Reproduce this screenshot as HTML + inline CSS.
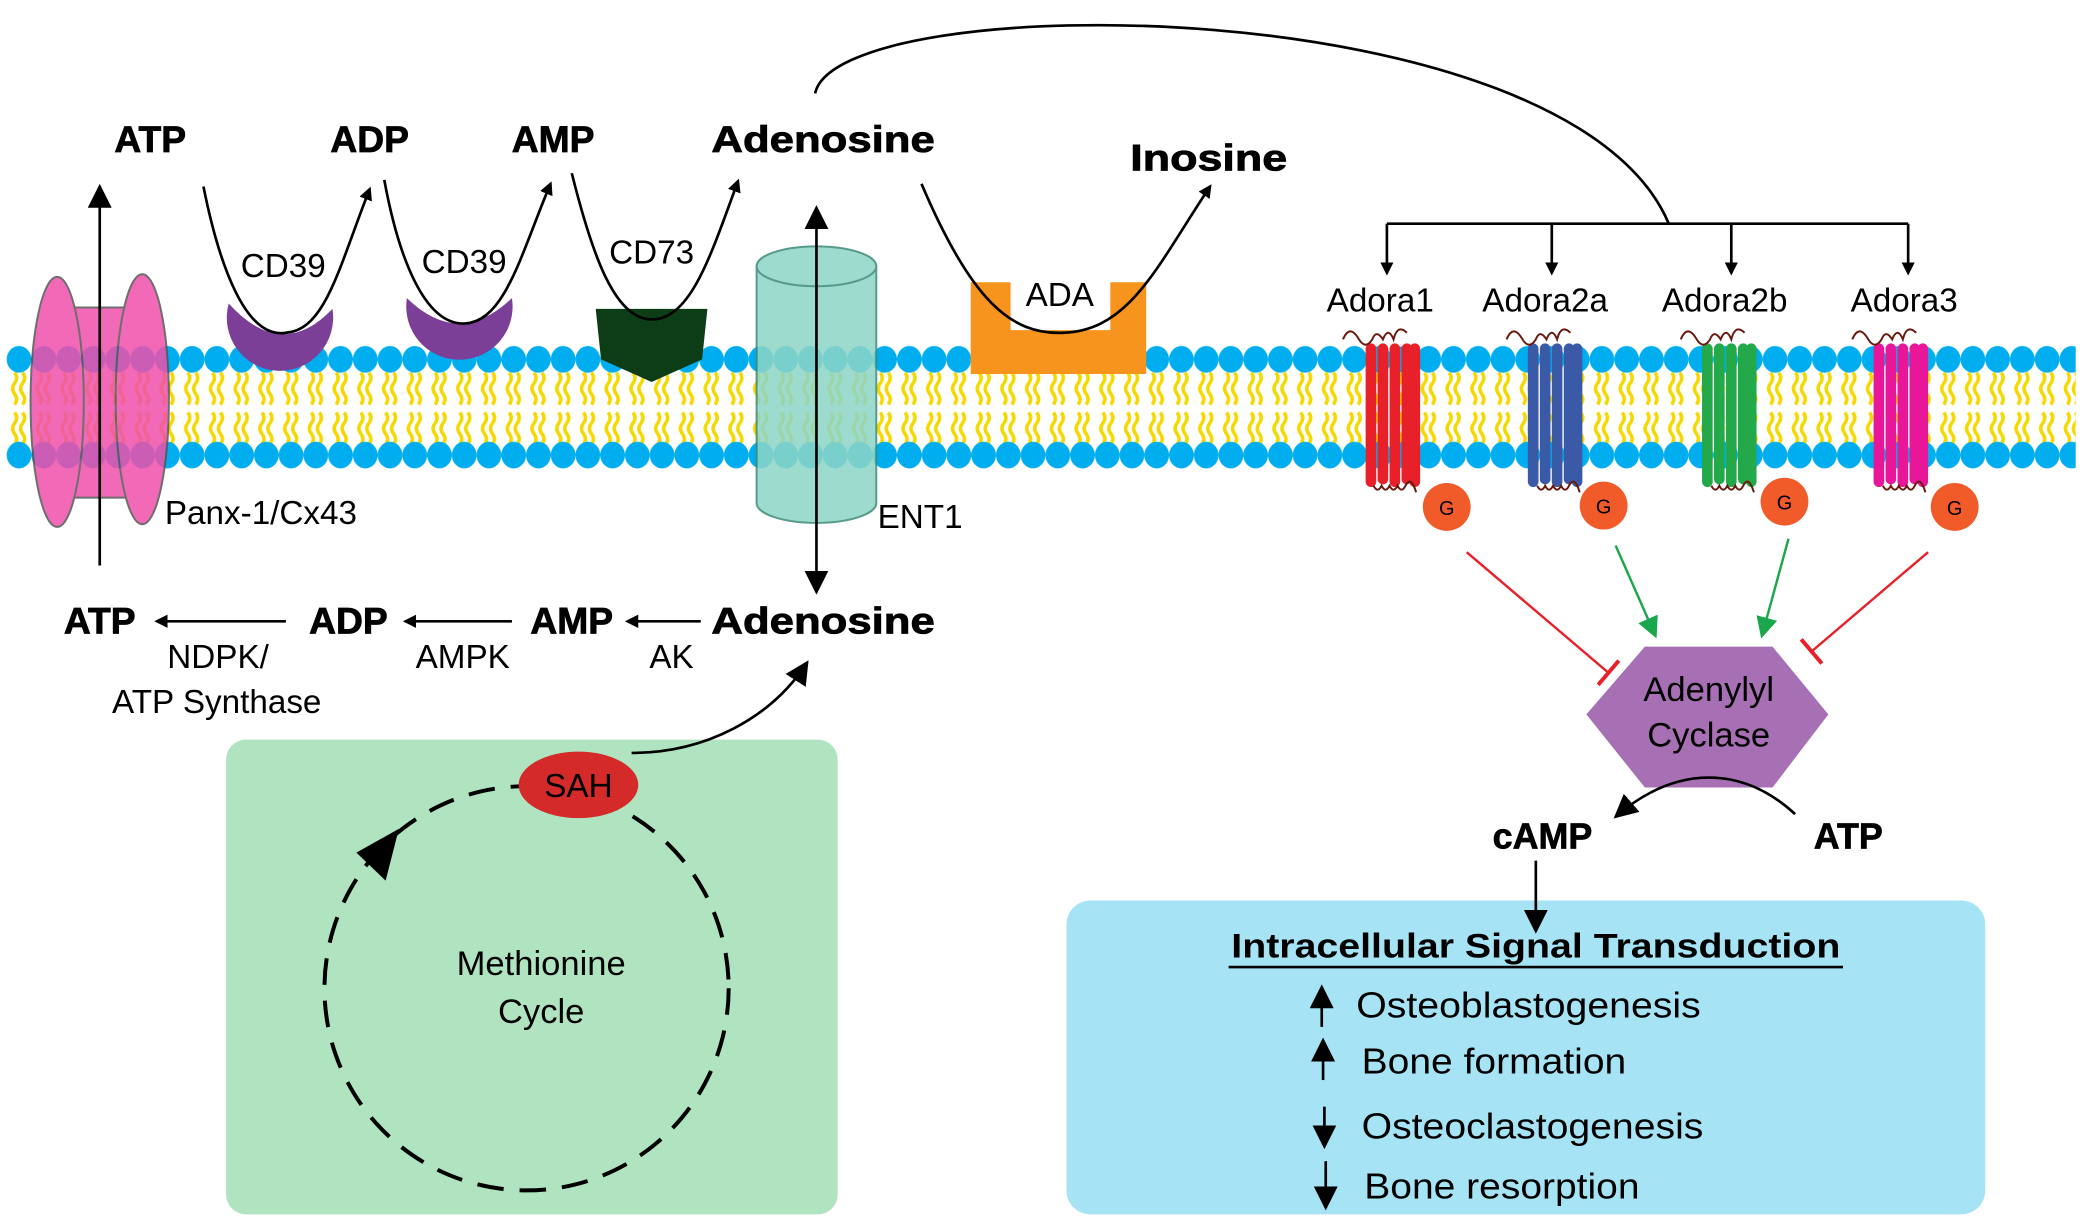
<!DOCTYPE html>
<html><head><meta charset="utf-8"><style>html,body{margin:0;padding:0;background:#fff}svg{display:block}text{font-family:"Liberation Sans",sans-serif}</style></head><body>
<svg width="2085" height="1220" viewBox="0 0 1568 917" xmlns="http://www.w3.org/2000/svg">
<defs>
<pattern id="mem" x="5" y="258" width="18.6" height="96" patternUnits="userSpaceOnUse">
<path d="M6,22 q3,4 0,8 q-3,4 0,8 q3,4 0,8 M12,22 q3,4 0,8 q-3,4 0,8 q3,4 0,8 M6,52 q3,4 0,8 q-3,4 0,8 q3,4 0,8 M12,52 q3,4 0,8 q-3,4 0,8 q3,4 0,8" stroke="#f5d800" stroke-width="2.6" fill="none"/>
<ellipse cx="9.3" cy="12" rx="9.3" ry="10" fill="#00aeef"/>
<ellipse cx="9.3" cy="84" rx="9.3" ry="10" fill="#00aeef"/>
</pattern>
<marker id="a" markerWidth="10" markerHeight="10" refX="8" refY="5" orient="auto" markerUnits="userSpaceOnUse"><path d="M0,0 L10,5 L0,10 Z" fill="#000"/></marker>
<marker id="ag" markerWidth="16" markerHeight="16" refX="14" refY="8" orient="auto" markerUnits="userSpaceOnUse"><path d="M0,0 L16,8 L0,16 Z" fill="#1aa64a"/></marker>
<marker id="tr" markerWidth="4" markerHeight="24" refX="2" refY="12" orient="auto" markerUnits="userSpaceOnUse"><rect x="0" y="0" width="3" height="24" fill="#e8202a"/></marker>
<marker id="ab" markerWidth="18" markerHeight="18" refX="16" refY="9" orient="auto" markerUnits="userSpaceOnUse"><path d="M0,0 L18,9 L0,18 Z" fill="#000"/></marker>
</defs>
<rect x="5" y="258" width="1556" height="96" fill="url(#mem)"/>

<!-- Panx -->
<g fill="#f04fac" stroke="#555" stroke-width="1.5" opacity="0.85">
<rect x="55" y="231" width="40" height="143"/>
<ellipse cx="43" cy="302" rx="20" ry="94"/>
<ellipse cx="107" cy="300" rx="20" ry="94"/>
</g>
<line x1="75" y1="425" x2="75" y2="140" stroke="#000" stroke-width="2" marker-end="url(#ab)"/>
<text x="124" y="394" font-size="25">Panx-1/Cx43</text>

<!-- top labels -->
<g font-weight="bold" font-size="28" text-anchor="middle" stroke="#000" stroke-width="0.6">
<text x="113" y="114">ATP</text><text x="278" y="114">ADP</text><text x="416" y="114">AMP</text><text x="619" y="114" textLength="168" lengthAdjust="spacingAndGlyphs">Adenosine</text><text x="909" y="128" textLength="118" lengthAdjust="spacingAndGlyphs">Inosine</text>
</g>

<!-- CD39 -->
<path d="M172,228 A40,40 0 1 0 250,232 Q212,272 172,228 Z" fill="#7b3f98"/>
<path d="M306,224 A40,40 0 1 0 385,224 Q345,262 306,224 Z" fill="#7b3f98"/>
<path d="M448,232 L532,232 L528,270 L490,287 L452,270 Z" fill="#0d3d16"/>
<!-- ADA -->
<path d="M730,212 L760,212 L760,248 L835,248 L835,212 L862,212 L862,281 L730,281 Z" fill="#f7941d"/>
<g fill="none" stroke="#000" stroke-width="2">
<path d="M153,140 C165,200 185,255 215,250 C245,248 255,200 278,142" marker-end="url(#a)"/>
<path d="M289,135 C300,195 320,245 350,243 C380,241 392,190 414,138" marker-end="url(#a)"/>
<path d="M430,130 C445,190 462,240 490,240 C520,240 535,190 555,136" marker-end="url(#a)"/>
<path d="M693,138 C730,225 760,252 800,250 C850,248 870,200 910,140" marker-end="url(#a)"/>
</g>
<g font-size="25" text-anchor="middle"><text x="213" y="208">CD39</text><text x="349" y="205">CD39</text><text x="490" y="198">CD73</text></g>
<text x="797" y="230" font-size="25" text-anchor="middle">ADA</text>

<!-- ENT1 -->
<g stroke="#3a8a7a" stroke-width="1.5" fill="#8dd5c6" opacity="0.85">
<path d="M569,200 L569,378 A45,15 0 0 0 659,378 L659,200 Z"/>
<ellipse cx="614" cy="200" rx="45" ry="15"/>
</g>
<line x1="614" y1="290" x2="614" y2="156" stroke="#000" stroke-width="2" marker-end="url(#ab)"/>
<line x1="614" y1="290" x2="614" y2="445" stroke="#000" stroke-width="2" marker-end="url(#ab)"/>
<text x="660" y="397" font-size="25">ENT1</text>

<!-- big arc -->
<path d="M613,70 C630,-10 1180,-10 1255,168" fill="none" stroke="#000" stroke-width="2"/>
<line x1="1043" y1="168" x2="1435" y2="168" stroke="#000" stroke-width="2"/>
<g stroke="#000" stroke-width="2" marker-end="url(#a)">
<line x1="1043" y1="168" x2="1043" y2="205"/><line x1="1167" y1="168" x2="1167" y2="205"/><line x1="1302" y1="168" x2="1302" y2="205"/><line x1="1435" y1="168" x2="1435" y2="205"/>
</g>
<g font-size="25" text-anchor="middle"><text x="1038" y="234">Adora1</text><text x="1162" y="234">Adora2a</text><text x="1297" y="234">Adora2b</text><text x="1432" y="234">Adora3</text></g>

<!-- receptors -->
<g stroke-width="8" stroke-linecap="round">
<g stroke="#e8202a"><line x1="1031" y1="262" x2="1031" y2="362"/><line x1="1040" y1="262" x2="1040" y2="360"/><line x1="1049" y1="262" x2="1049" y2="362"/><line x1="1058" y1="262" x2="1058" y2="360"/><line x1="1064" y1="262" x2="1064" y2="362"/></g>
<g stroke="#3a5aa8"><line x1="1153" y1="262" x2="1153" y2="362"/><line x1="1162" y1="262" x2="1162" y2="360"/><line x1="1171" y1="262" x2="1171" y2="362"/><line x1="1180" y1="262" x2="1180" y2="360"/><line x1="1186" y1="262" x2="1186" y2="362"/></g>
<g stroke="#23a94a"><line x1="1284" y1="262" x2="1284" y2="362"/><line x1="1293" y1="262" x2="1293" y2="360"/><line x1="1302" y1="262" x2="1302" y2="362"/><line x1="1311" y1="262" x2="1311" y2="360"/><line x1="1317" y1="262" x2="1317" y2="362"/></g>
<g stroke="#e8179a"><line x1="1413" y1="262" x2="1413" y2="362"/><line x1="1422" y1="262" x2="1422" y2="360"/><line x1="1431" y1="262" x2="1431" y2="362"/><line x1="1440" y1="262" x2="1440" y2="360"/><line x1="1446" y1="262" x2="1446" y2="362"/></g>
</g>
<g fill="none" stroke="#6b1a10" stroke-width="1.5">
<path d="M1010,255 q5,-12 12,0 q5,8 10,0 q3,-8 8,0 q4,-10 8,0 q3,-12 10,-5"/>
<path d="M1133,255 q5,-12 12,0 q5,8 10,0 q3,-8 8,0 q4,-10 8,0 q3,-12 10,-5"/>
<path d="M1264,255 q5,-12 12,0 q5,8 10,0 q3,-8 8,0 q4,-10 8,0 q3,-12 10,-5"/>
<path d="M1393,255 q5,-12 12,0 q5,8 10,0 q3,-8 8,0 q4,-10 8,0 q3,-12 10,-5"/>
<path d="M1033,365 q3,6 6,0 q3,6 6,0 q3,6 6,0 q3,6 6,0 q4,-8 8,5"/>
<path d="M1156,365 q3,6 6,0 q3,6 6,0 q3,6 6,0 q3,6 6,0 q4,-8 8,5"/>
<path d="M1287,365 q3,6 6,0 q3,6 6,0 q3,6 6,0 q3,6 6,0 q4,-8 8,5"/>
<path d="M1416,365 q3,6 6,0 q3,6 6,0 q3,6 6,0 q3,6 6,0 q4,-8 8,5"/>
</g>
<g fill="#f15a29"><circle cx="1088" cy="381" r="18"/><circle cx="1206" cy="380" r="18"/><circle cx="1342" cy="377" r="18"/><circle cx="1470" cy="381" r="18"/></g>
<g font-size="15" text-anchor="middle"><text x="1088" y="387">G</text><text x="1206" y="386">G</text><text x="1342" y="383">G</text><text x="1470" y="387">G</text></g>

<line x1="1103" y1="415" x2="1210" y2="506" stroke="#e8202a" stroke-width="1.8" marker-end="url(#tr)"/>
<line x1="1450" y1="415" x2="1362" y2="490" stroke="#e8202a" stroke-width="1.8" marker-end="url(#tr)"/>
<line x1="1215" y1="410" x2="1245" y2="478" stroke="#1aa64a" stroke-width="1.8" marker-end="url(#ag)"/>
<line x1="1345" y1="405" x2="1325" y2="478" stroke="#1aa64a" stroke-width="1.8" marker-end="url(#ag)"/>

<polygon points="1193,537 1237,486 1333,486 1375,537 1333,592 1237,592" fill="#a770b5"/>
<g font-size="26" text-anchor="middle"><text x="1285" y="527">Adenylyl</text><text x="1285" y="561">Cyclase</text></g>

<path d="M1350,612 C1310,575 1260,575 1215,614" fill="none" stroke="#000" stroke-width="2" marker-end="url(#ab)"/>
<g font-weight="bold" font-size="27" text-anchor="middle" stroke="#000" stroke-width="0.5"><text x="1160" y="638">cAMP</text><text x="1390" y="638">ATP</text></g>

<rect x="802" y="677" width="691" height="236" rx="18" fill="#a6e4f5"/>
<line x1="1155" y1="647" x2="1155" y2="700" stroke="#000" stroke-width="2" marker-end="url(#ab)"/>
<text x="1155" y="720" font-size="26" font-weight="bold" text-anchor="middle" textLength="458" lengthAdjust="spacingAndGlyphs">Intracellular Signal Transduction</text>
<line x1="924" y1="727" x2="1386" y2="727" stroke="#000" stroke-width="2"/>
<g stroke="#000" stroke-width="2">
<line x1="994" y1="772" x2="994" y2="742" marker-end="url(#ab)"/>
<line x1="995" y1="812" x2="995" y2="782" marker-end="url(#ab)"/>
<line x1="996" y1="832" x2="996" y2="862" marker-end="url(#ab)"/>
<line x1="997" y1="873" x2="997" y2="908" marker-end="url(#ab)"/>
</g>
<g font-size="27"><text x="1020" y="765" textLength="259" lengthAdjust="spacingAndGlyphs">Osteoblastogenesis</text><text x="1024" y="807" textLength="199" lengthAdjust="spacingAndGlyphs">Bone formation</text><text x="1024" y="856" textLength="257" lengthAdjust="spacingAndGlyphs">Osteoclastogenesis</text><text x="1026" y="901" textLength="207" lengthAdjust="spacingAndGlyphs">Bone resorption</text></g>

<!-- bottom row -->
<g font-weight="bold" font-size="28" text-anchor="middle" stroke="#000" stroke-width="0.6"><text x="75" y="476">ATP</text><text x="262" y="476">ADP</text><text x="430" y="476">AMP</text><text x="619" y="476" textLength="168" lengthAdjust="spacingAndGlyphs">Adenosine</text></g>
<g stroke="#000" stroke-width="2" marker-end="url(#a)"><line x1="215" y1="467" x2="118" y2="467"/><line x1="385" y1="467" x2="305" y2="467"/><line x1="527" y1="467" x2="472" y2="467"/></g>
<g font-size="25" text-anchor="middle"><text x="164" y="502">NDPK/</text><text x="163" y="536">ATP Synthase</text><text x="348" y="502">AMPK</text><text x="505" y="502">AK</text></g>

<!-- methionine -->
<rect x="170" y="556" width="460" height="357" rx="15" fill="#b0e3c0"/>
<ellipse cx="396" cy="743" rx="152" ry="152" fill="none" stroke="#000" stroke-width="3" stroke-dasharray="20,12"/>
<polygon points="300,623 268,641 290,662" fill="#000"/>
<ellipse cx="435" cy="590" rx="45" ry="25" fill="#d52a2a"/>
<text x="435" y="599" font-size="25" text-anchor="middle">SAH</text>
<path d="M475,566 C530,566 580,540 607,498" fill="none" stroke="#000" stroke-width="2" marker-end="url(#ab)"/>
<g font-size="26" text-anchor="middle"><text x="407" y="733">Methionine</text><text x="407" y="769">Cycle</text></g>
</svg>
</body></html>
